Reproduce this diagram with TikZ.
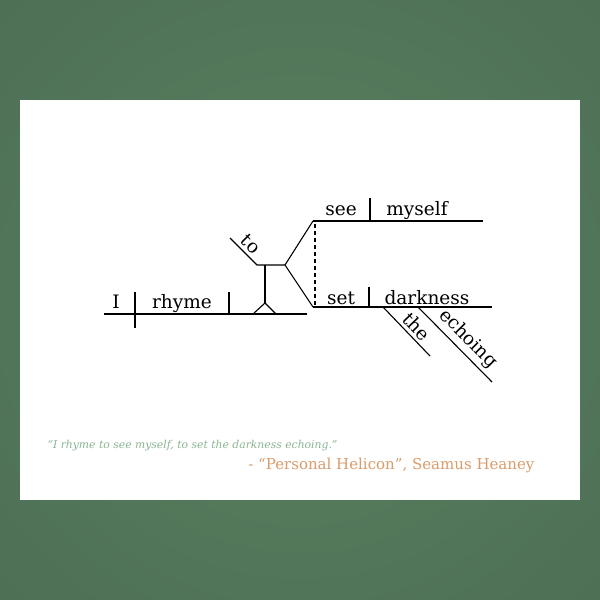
\documentclass[tikz,border=0pt]{standalone}
\usepackage{fontspec}
\setmainfont{DejaVu Serif}
\definecolor{bgouter}{HTML}{44604B}
\definecolor{bginner}{HTML}{58805F}
\definecolor{quotegreen}{HTML}{8BB592}
\definecolor{heaney}{HTML}{D99C6B}
\begin{document}
\begin{tikzpicture}[x=1pt,y=-1pt,line width=1.1pt,
word/.style={anchor=base,inner sep=0pt,font=\fontsize{18.5}{20}\selectfont},
slantword/.style={sloped,above,inner sep=3.5pt,font=\fontsize{18.5}{20}\selectfont}]

\useasboundingbox (0,0) rectangle (600,600);
\begin{scope}
\clip (0,0) rectangle (600,600);
\shade[inner color=bginner,outer color=bgouter] (300,300) circle (850pt);
\end{scope}
\fill[white] (20,100) rectangle (580,500);

% main clause
\coordinate (base1) at (104,314);
\coordinate (base2) at (307,314);
\coordinate (subj1) at (135,292);
\coordinate (subj2) at (135,328);
\coordinate (obj1) at (229,292);
\coordinate (obj2) at (229,314);
\draw (base1) -- (base2);
\draw (subj1) -- (subj2);
\draw (obj1) -- (obj2);
\draw (116,308) node[word] (I) {I};
\draw (182,308) node[word] (rhyme) {rhyme};

% pedestal and infinitive
\coordinate (ped1) at (253,314);
\coordinate (apex) at (265,303);
\coordinate (ped2) at (276,314);
\coordinate (stem) at (265,265);
\coordinate (tobeg) at (230,238);
\coordinate (inf) at (257,265);
\coordinate (fork) at (285,265);
\draw (ped1) -- (apex) -- (ped2);
\draw (apex) -- (stem);
\draw (tobeg) -- node[slantword,pos=0.5] (to) {to} (inf) -- (fork);

% compound verbs
\coordinate (up1) at (313,221);
\coordinate (up2) at (483,221);
\coordinate (low1) at (313,307);
\coordinate (low2) at (492,307);
\draw (up1) -- (fork) -- (low1);
\draw[dash pattern=on 4pt off 3pt] (315,224) -- (315,307);
\draw (up1) -- (up2);
\draw (low1) -- (low2);
\draw (370,198) -- (370,221);
\draw (369,287) -- (369,307);
\draw (341,215) node[word] (see) {see};
\draw (417,215) node[word] (myself) {myself};
\draw (341,304) node[word] (set) {set};
\draw (427,304) node[word] (darkness) {darkness};

% modifiers
\coordinate (the1) at (383,307);
\coordinate (the2) at (430,356);
\coordinate (echo1) at (418,307);
\coordinate (echo2) at (492,382);
\draw (the1) -- node[slantword,pos=0.55] (the) {the} (the2);
\draw (echo1) -- node[slantword,pos=0.55] (echoing) {echoing} (echo2);

% quote
\draw (47,448) node[anchor=base west,inner sep=0pt,text=quotegreen,font=\fontsize{10.8}{12}\itshape] (quote) {“I rhyme to see myself, to set the darkness echoing.”};
\draw (535,469) node[anchor=base east,inner sep=0pt,text=heaney,font=\fontsize{15}{17}\selectfont] (poem) {- “Personal Helicon”, Seamus Heaney};
\end{tikzpicture}
\end{document}
